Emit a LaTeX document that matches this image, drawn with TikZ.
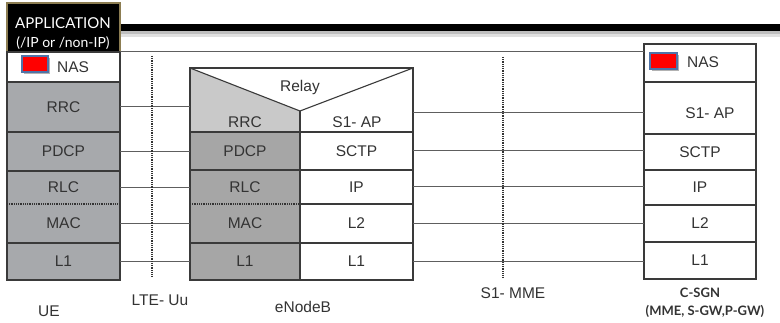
\documentclass[tikz,border=0pt]{standalone}
\usepackage{fontspec}
\setmainfont{Liberation Sans}
\newfontfamily\gillfont{Lato}
\definecolor{uegray}{HTML}{A7A9AC}
\definecolor{dkgray}{HTML}{A6A6A6}
\definecolor{ltgray}{HTML}{C9C9C9}
\definecolor{txt}{HTML}{333333}
\definecolor{frame}{HTML}{3A3A3A}
\definecolor{conn}{HTML}{5E5E5E}
\definecolor{tan}{HTML}{8C7D52}
\definecolor{nasred}{HTML}{FF0000}
\definecolor{nasblue}{HTML}{4F73A8}
\begin{document}
\begin{tikzpicture}[x=1pt,y=-1pt,
  cell/.style={inner sep=0pt, outer sep=0pt, anchor=north west, font=\fontsize{15.5}{17}\selectfont, text=txt},
  ttext/.style={inner sep=0pt, font=\fontsize{15.5}{17}\selectfont, text=txt},
  lbl/.style={inner sep=0pt, font=\fontsize{15.5}{17}\selectfont, text=txt},
  blbl/.style={inner sep=0pt, font=\gillfont\bfseries\fontsize{13}{15}\selectfont, text=txt},
  wire/.style={draw=conn, line width=1pt},
  edge/.style={draw=frame, line width=1.1pt},
  dots/.style={draw=txt, line width=1.8pt, dash pattern=on 0.9pt off 0.9pt},
  redsq/.style={fill=nasred, draw=nasblue, line width=1.2pt}
]
\useasboundingbox[fill=white] (0,0) rectangle (780,323);

% top thick bar with shadow
\fill[black!12] (120,30) rectangle (780,37);
\fill[black!25] (120,30) rectangle (780,34);
\fill[black] (120,24) rectangle (780,31);

% ---------------- UE ----------------
\node[cell, fill=black, draw=tan, line width=1.4pt, minimum width=113pt, minimum height=49pt] (app) at (7,3) {};
\node[inner sep=0pt, text=white, font=\gillfont\fontsize{15}{17}\selectfont] (apptxt1) at (63,23) {APPLICATION};
\node[inner sep=0pt, text=white, font=\gillfont\fontsize{14}{16}\selectfont] (apptxt2) at (63,43) {(/IP or /non-IP)};

\node[cell, fill=white, minimum width=113pt, minimum height=30pt] (ue-nas) at (7,52) {};
\fill[black!30] (24,58) rectangle (50,74);
\draw[redsq] (22,56) rectangle (48,72);
\node[ttext] (ue-nastxt) at (73,67) {NAS};

\node[cell, fill=uegray, minimum width=113pt, minimum height=50pt] (ue-rrc) at (7,82) {RRC};
\node[cell, fill=uegray, minimum width=113pt, minimum height=39pt] (ue-pdcp) at (7,132) {PDCP};
\node[cell, fill=uegray, minimum width=113pt, minimum height=33pt] (ue-rlc) at (7,171) {RLC};
\node[cell, fill=uegray, minimum width=113pt, minimum height=39pt] (ue-mac) at (7,204) {MAC};
\node[cell, fill=uegray, minimum width=113pt, minimum height=37pt] (ue-l1) at (7,243) {L1};
\draw[edge] (app.south west) rectangle (ue-l1.south east);
\draw[edge] (ue-rrc.north west) -- (ue-rrc.north east);
\draw[edge] (ue-pdcp.north west) -- (ue-pdcp.north east);
\draw[edge] (ue-rlc.north west) -- (ue-rlc.north east);
\draw[dots] (ue-mac.north west) -- (ue-mac.north east);
\draw[edge] (ue-l1.north west) -- (ue-l1.north east);

% ---------------- eNodeB ----------------
\node[cell, minimum width=223pt, minimum height=212pt] (enb) at (190,68) {};
\coordinate (vtip) at (300,111);
\fill[ltgray] (enb.north west) -- (vtip) -- (300,132) -- (190,132) -- cycle;
\node[cell, fill=dkgray, minimum width=110pt, minimum height=38pt] (enb-pdcp) at (190,132) {PDCP};
\node[cell, fill=dkgray, minimum width=110pt, minimum height=34pt] (enb-rlc) at (190,170) {RLC};
\node[cell, fill=dkgray, minimum width=110pt, minimum height=39pt] (enb-mac) at (190,204) {MAC};
\node[cell, fill=dkgray, minimum width=110pt, minimum height=37pt] (enb-l1) at (190,243) {L1};
\node[cell, minimum width=113pt, minimum height=38pt] (enb-sctp) at (300,132) {SCTP};
\node[cell, minimum width=113pt, minimum height=34pt] (enb-ip) at (300,170) {IP};
\node[cell, minimum width=113pt, minimum height=39pt] (enb-l2) at (300,204) {L2};
\node[cell, minimum width=113pt, minimum height=37pt] (enb-r1) at (300,243) {L1};
\node[ttext] (relay) at (300,87) {Relay};
\node[ttext] (enb-rrc) at (245,122) {RRC};
\node[ttext] (enb-s1ap) at (357,122) {S1- AP};
\draw[edge] (enb.north west) rectangle (enb.south east);
\draw[edge] (enb.north west) -- (vtip) -- (enb.north east);
\draw[edge] (vtip) -- (enb-l1.south east);
\draw[edge] (enb-pdcp.north west) -- (enb-sctp.north east);
\draw[edge] (enb-rlc.north west) -- (enb-ip.north east);
\draw[dots] (enb-mac.north west) -- (enb-mac.north east);
\draw[edge] (enb-l2.north west) -- (enb-l2.north east);
\draw[edge] (enb-l1.north west) -- (enb-r1.north east);
\draw[frame, line width=1.8pt] (enb-l1.south west) -- (enb-l1.south east);

% ---------------- C-SGN ----------------
\node[cell, draw=frame, line width=1.1pt, minimum width=112pt, minimum height=38pt] (csgn-nas) at (644,44) {};
\node[cell, draw=frame, line width=1.1pt, minimum width=112pt, minimum height=52pt] (csgn-s1ap) at (644,82) {};
\node[cell, draw=frame, line width=1.1pt, minimum width=112pt, minimum height=36pt] (csgn-sctp) at (644,134) {SCTP};
\node[cell, draw=frame, line width=1.1pt, minimum width=112pt, minimum height=35pt] (csgn-ip) at (644,170) {IP};
\node[cell, draw=frame, line width=1.1pt, minimum width=112pt, minimum height=37pt] (csgn-l2) at (644,205) {L2};
\node[cell, draw=frame, line width=1.1pt, minimum width=112pt, minimum height=37pt] (csgn-l1) at (644,242) {L1};
\fill[black!30] (652,55) rectangle (679,71);
\draw[redsq] (650,53) rectangle (677,69);
\node[ttext] (csgn-nastxt) at (703,62) {NAS};
\node[ttext] (csgn-s1aptxt) at (710,113) {S1- AP};

% ---------------- connectors ----------------
\draw[wire] (app.south east) -- (app.south east -| csgn-nas.west);
\draw[wire] (ue-rrc.east) -- (ue-rrc.east -| enb.west);
\draw[wire] (ue-pdcp.east) -- (ue-pdcp.east -| enb.west);
\draw[wire] (ue-rlc.east) -- (ue-rlc.east -| enb.west);
\draw[wire] (ue-mac.east) -- (ue-mac.east -| enb.west);
\draw[wire] (ue-l1.east) -- (ue-l1.east -| enb.west);
\draw[wire] (enb.east |- csgn-s1aptxt.west) -- (csgn-s1ap.west |- csgn-s1aptxt.west);
\draw[wire] (enb-sctp.east) -- (enb-sctp.east -| csgn-sctp.west);
\draw[wire] (enb-ip.east) -- (enb-ip.east -| csgn-ip.west);
\draw[wire] (enb-l2.east) -- (enb-l2.east -| csgn-l2.west);
\draw[wire] (enb-r1.east) -- (enb-r1.east -| csgn-l1.west);

% dotted reference lines
\coordinate (uu-top) at (152,56);
\coordinate (uu-bot) at (152,277);
\coordinate (mme-top) at (503,57);
\coordinate (mme-bot) at (503,277);
\draw[dots] (uu-top) -- (uu-bot);
\draw[dots] (mme-top) -- (mme-bot);

% ---------------- labels ----------------
\node[lbl] (l-ue) at (49,311) {UE};
\node[lbl] (l-uu) at (160,300) {LTE- Uu};
\node[lbl] (l-enb) at (303,307) {eNodeB};
\node[lbl] (l-mme) at (513,293) {S1- MME};
\node[blbl] (l-csgn) at (700,293) {C-SGN};
\node[blbl] (l-csgn2) at (705,311) {(MME, S-GW,P-GW)};
\end{tikzpicture}
\end{document}
